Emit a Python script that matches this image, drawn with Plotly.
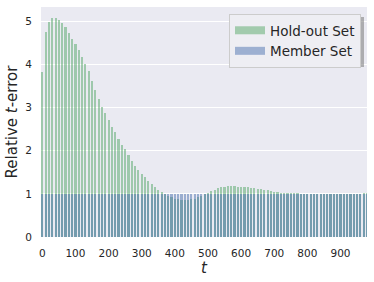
import plotly.graph_objects as go

t_values = list(range(0, 990, 10))
holdout_values = [
    3.82, 4.75, 4.98, 5.07, 5.07, 5.03, 4.96, 4.86, 4.73, 4.60,
    4.47, 4.33, 4.18, 4.02, 3.85, 3.62, 3.40, 3.20, 3.02, 2.87,
    2.71, 2.56, 2.43, 2.27, 2.14, 2.03, 1.90, 1.77, 1.65, 1.55,
    1.46, 1.38, 1.30, 1.22, 1.15, 1.09, 1.04, 0.99, 0.95, 0.92,
    0.89, 0.87, 0.86, 0.86, 0.86, 0.87, 0.89, 0.92, 0.95, 0.99,
    1.03, 1.07, 1.10, 1.13, 1.15, 1.17, 1.18, 1.18, 1.18, 1.17,
    1.17, 1.16, 1.15, 1.14, 1.13, 1.12, 1.11, 1.09, 1.08, 1.06,
    1.05, 1.04, 1.03, 1.02, 1.02, 1.015, 1.01, 1.01, 1.005,
    1.0, 1.0, 1.0, 1.0, 1.0, 1.0, 1.0, 1.0, 1.0, 1.0,
    1.0, 1.0, 1.0, 1.0, 1.0, 1.0, 1.0, 1.0,
    1.01, 1.03,
]
member_values = [1.0] * len(t_values)
series_names = ["Hold-out Set", "Member Set"]
x_ticks = list(range(0, 1000, 100))
y_ticks = [0, 1, 2, 3, 4, 5]

FONT = "DejaVu Sans"
GREEN = "#55a868"
BLUE = "#4c72b0"

fig = go.Figure()
fig.add_trace(go.Bar(x=t_values, y=holdout_values, name=series_names[0],
                     marker=dict(color=GREEN, line=dict(width=0)),
                     opacity=0.5, width=6.5, showlegend=False))
fig.add_trace(go.Bar(x=t_values, y=member_values, name=series_names[1],
                     marker=dict(color=BLUE, line=dict(width=0)),
                     opacity=0.5, width=6.5, showlegend=False))
# legend entries drawn as wide patches
for name, col in zip(series_names, [GREEN, BLUE]):
    fig.add_trace(go.Scatter(x=[None], y=[None], mode="lines", name=name,
                             line=dict(color=col, width=8), opacity=0.5,
                             hoverinfo="skip"))

L, R, T, B = 41, 7, 7, 45
W, H = 374, 282
pw, ph = W - L - R, H - T - B

def px_x(x):
    return (x - L) / pw

def px_y(y):
    return (H - B - y) / ph

# legend shadow
fig.add_shape(type="rect", xref="paper", yref="paper",
              x0=px_x(229), x1=px_x(364), y0=px_y(17), y1=px_y(67),
              fillcolor="rgba(120,120,120,0.55)", line=dict(width=0), layer="above")

fig.update_layout(
    width=W, height=H,
    margin=dict(l=L, r=R, t=T, b=B, autoexpand=False),
    paper_bgcolor="white",
    plot_bgcolor="#EAEAF2",
    barmode="overlay",
    bargap=0,
    hovermode=False,
    font=dict(family=FONT, color="#262626"),
    showlegend=True,
    legend=dict(
        x=px_x(361), y=px_y(14), xanchor="right", yanchor="top",
        bgcolor="#EEEEF3", bordercolor="#CCCCCC", borderwidth=1,
        font=dict(size=13.5, family=FONT, color="#262626"),
        tracegroupgap=0, itemwidth=30,
    ),
    xaxis=dict(
        range=[-4, 980], tickvals=x_ticks, ticktext=[str(v) for v in x_ticks],
        showgrid=False, zeroline=False, showline=False, automargin=False,
        ticks="outside", ticklen=6, tickcolor="rgba(0,0,0,0)",
        tickfont=dict(size=10.5, family=FONT, color="#262626"),
        title=dict(text="<i>t</i>", font=dict(size=15, family=FONT, color="#262626"), standoff=2),
    ),
    yaxis=dict(
        range=[0, 5.33], tickvals=y_ticks, ticktext=[str(v) for v in y_ticks],
        showgrid=True, gridcolor="white", gridwidth=1.2, zeroline=False, showline=False,
        automargin=False,
        ticks="outside", ticklen=6, tickcolor="rgba(0,0,0,0)",
        tickfont=dict(size=10.5, family=FONT, color="#262626"),
        title=dict(text="Relative <i>t</i>-error", font=dict(size=15, family=FONT, color="#262626"), standoff=3),
    ),
)

fig.write_html("out.html", config={"displayModeBar": False},
               post_script="document.body.style.margin='0';")
